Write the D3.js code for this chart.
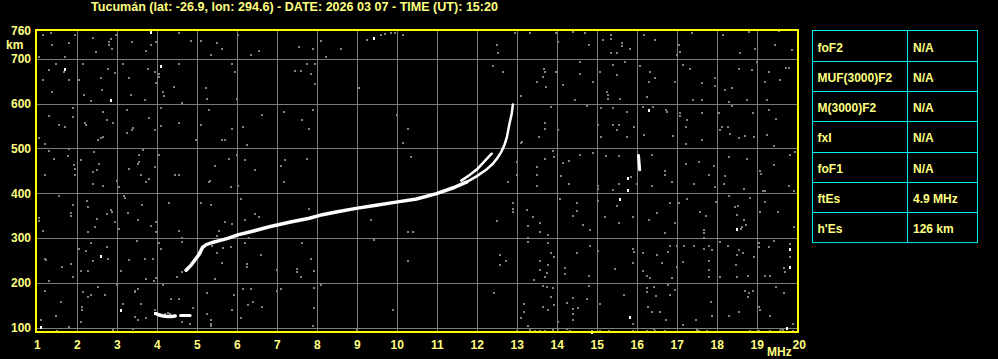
<!DOCTYPE html>
<html>
<head>
<meta charset="utf-8">
<script src="https://cdn.jsdelivr.net/npm/d3@7"></script>
<style>
body { margin: 0; background: #000; }
svg { display: block; }
text { font-family: "Liberation Sans", Arial, sans-serif; font-weight: bold; fill: #ffff80; }
</style>
</head>
<body>
<svg width="998" height="359"></svg>
<script>
var title = 'Tucumán (lat: -26.9, lon: 294.6) - DATE: 2026 03 07 - TIME (UT): 15:20';

// axis ticks
var freqTicks = d3.range(1, 21);
var heightTicks = [100, 200, 300, 400, 500, 600, 700, 760];
var gridHeights = [100, 200, 300, 400, 500, 600, 700];

// ordinary trace (MHz, km), lower thick part
var oFreq = [4.72, 4.85, 4.95, 5.05, 5.13, 5.22, 5.38, 5.55, 5.76, 6.01, 6.38, 6.8, 7.3, 7.8, 8.13, 8.47, 8.97,
    9.47, 9.97, 10.48, 10.98, 11.4, 11.74];
var oHeight = [228, 240, 252, 264, 279, 285, 290, 294, 299, 307, 315, 325, 335, 344, 352, 358, 366,
    373, 380, 387, 399, 412, 425];
// upper thin part of the same trace
var oTopFreq = [11.74, 11.99, 12.22, 12.38, 12.49, 12.6, 12.68, 12.74, 12.8, 12.86, 12.89];
var oTopHeight = [425, 438, 452, 465, 477, 492, 508, 525, 553, 577, 598];

// second (x) branch
var xFreq = [11.6, 11.8, 12.0, 12.15, 12.27, 12.36];
var xHeight = [428, 440, 454, 468, 480, 488];

// sporadic E
var esFreq = [3.97, 4.05, 4.15, 4.25, 4.35, 4.45];
var esHeight = [131, 128, 126, 125, 125, 126];
var es2Freq = [4.58, 4.7, 4.82];
var es2Height = [127, 127, 127];

// isolated echo near 16 MHz
var spikeFreq = [16.03, 16.06];
var spikeHeight = [484, 452];

// background noise echoes (MHz, km)
var noiseDots = [
    [1.13,753],[1.34,757],[1.38,731],[1.78,734],[1.95,753],[2.38,747],[2.47,716],[2.8,731],[2.88,722],[2.97,753],
    [3.38,738],[3.72,717],[3.84,731],[3.97,738],[4.55,757],[4.84,740],[5.09,740],[5.48,734],[5.63,722],[5.34,708],
    [6.03,753],[6.34,708],[6.53,717],[7.53,725],[7.88,722],[8.22,704],[8.59,722],[8.09,740],[9.24,742],[9.6,752],
    [9.7,754],[9.85,758],[9.95,757],[10.13,753],[1.05,704],[1.7,704],[2.85,745],[2.8,738],
    [1.48,688],[1.28,675],[1.13,652],[1.38,626],[1.78,652],[2.13,688],[2.03,652],[2.34,605],[2.59,656],[2.78,677],
    [2.62,630],[2.93,667],[3.15,688],[3.28,656],[3.34,619],[3.7,607],[3.77,678],[3.93,671],[4.03,660],[3.97,645],
    [4.13,626],[4.17,617],[4.43,637],[4.55,688],[4.63,602],[5.22,634],[5.24,611],[5.88,688],[5.94,671],[5.99,611],
    [7.45,672],[7.59,672],[7.73,688],[7.95,688],[7.84,665],[7.95,643],[9.03,634],[4.03,666],[1.66,671],[2.17,618],
    [1.28,572],[1.55,553],[1.7,548],[1.88,590],[1.88,571],[1.05,522],[1.2,510],[2.2,557],[2.22,551],[2.63,580],
    [2.74,563],[2.9,557],[2.63,525],[2.52,518],[3.23,585],[3.38,540],[3.23,535],[3.78,568],[3.93,540],[4.1,591],
    [4.09,549],[4.53,557],[4.97,518],[5.09,551],[5.3,585],[5.63,518],[5.7,518],[5.88,544],[6.13,548],[6.24,508],
    [6.63,575],[7.18,580],[7.63,563],[7.88,585],[7.78,544],[10.28,544],[10.13,513],[9.98,575],[2.58,522],[3.4,545],
    [1.3,494],[1.43,477],[1.77,482],[1.78,499],[1.92,462],[1.95,440],[1.18,440],[2.09,475],[2.42,492],[2.55,466],
    [2.38,447],[2.5,451],[3.3,455],[3.55,486],[3.52,466],[3.6,440],[3.64,496],[3.93,458],[4.05,486],[3.8,432],
    [4.45,440],[4.55,441],[5.44,460],[5.78,477],[5.99,486],[6.19,475],[6.43,451],[7.09,460],[7.2,473],[7.73,477],
    [10.34,481],[1.95,455],[3.55,470],
    [12.94,757],[13.33,757],[13.98,757],[14.4,760],[14.69,757],[15.13,742],[15.33,753],[15.33,712],[15.63,734],[15.82,722],
    [16.18,753],[16.43,742],[17.03,731],[17.07,714],[17.36,757],[18.15,753],[18.78,759],[19.53,762],[19.44,731],[19.88,719],
    [18.58,712],[18.94,722],[12.48,731],[12.53,712],[14.78,731],[15.48,712],[14.03,737],[15.33,745],[15.63,728],[17.0,708],
    [12.38,684],[12.63,671],[13.67,677],[13.63,660],[13.97,671],[14.57,693],[14.57,666],[14.88,647],[15.07,671],[15.4,686],
    [15.48,663],[15.69,693],[16.08,684],[16.32,671],[16.28,648],[16.44,656],[16.94,648],[17.13,687],[17.33,678],[17.61,645],
    [17.94,656],[17.94,640],[18.19,630],[18.38,634],[18.53,678],[18.86,675],[19.28,671],[19.19,648],[19.57,652],[19.72,680],
    [19.0,693],[14.15,642],[13.72,637],[13.48,648],[13.08,617],[14.44,607],[15.23,626],[15.28,611],[15.57,611],[16.23,615],
    [17.4,607],[17.63,607],[18.28,603],[18.73,607],[19.25,607],[13.68,670],[15.26,618],[19.8,680],
    [13.83,593],[14.73,595],[15.08,590],[15.38,590],[15.73,582],[16.15,593],[16.4,593],[16.73,585],[17.07,578],[17.23,563],
    [17.63,578],[18.05,578],[18.38,595],[18.88,578],[19.28,585],[19.48,566],[13.69,557],[13.69,544],[14.03,540],[15.03,551],
    [15.4,553],[15.55,553],[15.48,540],[15.92,548],[16.17,529],[16.9,528],[17.22,548],[18.13,548],[18.27,548],[18.33,531],
    [18.53,522],[18.69,528],[18.92,526],[19.23,530],[13.11,515],[13.55,525],[15.08,525],[15.73,525],[17.22,510],[17.63,518],
    [18.08,540],[19.42,505],[13.1,512],[16.75,580],[17.07,572],
    [13.68,477],[13.9,493],[13.92,481],[14.15,468],[14.28,471],[14.57,486],[14.88,490],[15.21,482],[15.53,482],[16.36,485],
    [16.69,449],[17.22,466],[17.53,470],[17.92,461],[18.28,481],[18.73,477],[19.08,449],[19.42,463],[19.83,486],[19.94,492],
    [13.48,458],[13.48,440],[14.08,438],[12.98,470],[13.0,440],[16.7,440],[17.8,440],[18.2,438],[19.1,442],[15.85,435],
    [2.38,421],[2.63,417],[3.03,413],[3.72,425],[5.3,425],[5.84,413],[6.03,417],[7.18,425],[5.32,427],[3.0,428],
    [1.53,394],[1.88,374],[1.84,355],[2.23,383],[2.28,368],[2.48,342],[2.74,353],[2.84,362],[2.94,335],[3.05,320],
    [3.17,394],[3.26,355],[3.51,340],[3.62,374],[3.84,327],[3.97,335],[3.97,313],[4.3,377],[4.55,315],[1.03,338],
    [1.13,316],[2.28,313],[2.45,324],[5.09,377],[5.34,374],[6.09,387],[5.53,316],[5.7,335],[5.88,331],[6.2,340],
    [6.44,353],[6.53,346],[7.8,364],[9.34,340],[10.28,313],[10.38,313],[9.42,296],[1.05,345],[1.85,350],[2.86,358],
    [3.2,390],[4.63,300],[5.5,305],[6.3,300],
    [1.2,253],[1.84,242],[2.03,276],[2.22,270],[2.34,288],[2.74,279],[2.78,252],[2.38,248],[2.09,227],[1.88,213],
    [1.63,236],[3.09,227],[3.3,250],[3.49,293],[3.68,252],[3.89,253],[3.72,209],[4.03,288],[4.09,276],[4.63,290],
    [4.48,213],[4.63,224],[5.38,283],[5.48,266],[5.65,278],[5.45,209],[5.63,244],[5.84,279],[6.2,288],[6.24,242],
    [6.59,261],[6.98,229],[7.48,224],[7.59,213],[7.63,288],[7.84,252],[7.93,226],[10.28,248],[1.22,250],[2.28,226],
    [3.92,205],[3.97,210],[6.25,236],[7.5,230],
    [1.18,181],[1.3,204],[1.59,157],[2.13,179],[2.26,168],[2.34,172],[2.53,190],[2.7,172],[2.12,146],[2.09,113],
    [1.8,102],[1.47,125],[1.09,116],[2.99,194],[3.15,153],[3.45,179],[3.51,186],[3.59,153],[3.43,124],[3.53,118],
    [3.72,121],[3.93,139],[4.13,194],[4.35,164],[4.55,164],[4.88,144],[4.82,109],[5.24,177],[5.23,131],[5.34,116],
    [5.34,103],[5.93,172],[5.88,139],[6.09,122],[6.13,187],[6.34,187],[6.4,157],[6.28,150],[6.63,147],[6.98,181],
    [7.08,187],[7.93,189],[8.09,194],[7.93,144],[7.88,103],[9.0,94],[9.88,139],[2.12,140],[3.45,182],[4.62,112],
    [5.33,108],[1.5,93],[2.9,94],[3.4,98],[4.2,131],[4.27,132],[4.32,131],
    [12.78,424],[13.48,416],[14.28,420],[15.03,416],[15.53,420],[15.98,421],[16.36,416],[16.86,424],[17.42,421],[17.93,413],
    [18.17,421],[18.68,409],[19.15,404],[19.78,416],[19.93,405],[15.03,410],[15.4,408],[19.2,404],
    [12.48,337],[12.88,379],[12.88,359],[13.23,362],[13.27,327],[13.27,290],[13.38,346],[13.58,333],[13.57,313],[13.78,307],
    [14.07,387],[14.48,377],[14.48,361],[14.38,350],[14.63,329],[14.82,318],[15.03,383],[15.18,346],[15.48,372],[15.53,333],
    [15.9,346],[16.29,340],[16.48,355],[16.68,310],[16.83,377],[16.93,333],[17.03,377],[17.23,387],[17.57,359],[17.72,350],
    [17.67,318],[17.67,300],[17.97,381],[18.3,394],[18.43,370],[18.52,372],[18.48,351],[18.68,339],[18.6,320],[18.72,330],
    [18.82,390],[19.07,357],[19.18,381],[19.52,359],[19.93,324],[12.9,365],[17.67,310],[18.62,325],
    [12.57,261],[12.72,248],[12.57,239],[13.27,301],[13.78,288],[13.83,266],[13.92,257],[13.58,248],[13.78,239],[13.58,229],
    [13.73,221],[13.69,213],[13.43,207],[14.18,233],[14.18,220],[14.48,266],[14.82,283],[14.78,216],[15.03,272],[15.44,231],
    [15.88,276],[15.92,269],[15.88,244],[16.13,266],[16.15,227],[16.23,216],[16.33,211],[16.48,261],[16.63,244],[16.77,268],
    [16.83,283],[16.98,283],[17.0,236],[16.88,211],[17.13,246],[17.18,283],[17.42,281],[17.67,276],[17.78,281],[17.88,273],
    [17.78,248],[17.78,229],[17.78,214],[18.07,292],[18.08,213],[18.27,283],[18.48,261],[18.65,266],[18.53,273],[18.47,239],
    [18.48,213],[18.77,216],[19.03,288],[19.03,279],[19.28,279],[18.93,257],[19.19,216],[19.32,216],[19.42,293],[19.67,233],
    [19.68,224],[19.83,257],[19.82,287],
    [12.42,177],[13.65,192],[13.73,190],[13.88,189],[13.83,168],[13.65,146],[13.78,140],[13.92,150],[13.17,152],[13.17,135],
    [13.08,122],[13.27,103],[14.38,167],[14.23,155],[14.52,144],[14.38,142],[14.73,164],[14.78,192],[14.38,131],[14.4,118],
    [14.03,113],[15.07,152],[15.67,172],[15.88,107],[16.23,189],[16.23,179],[16.42,190],[16.46,170],[16.27,147],[16.37,135],
    [16.57,135],[16.72,118],[16.77,194],[16.83,172],[16.93,184],[17.13,105],[17.47,118],[17.85,157],[17.88,125],[18.3,125],
    [18.55,135],[18.7,181],[18.78,177],[18.88,181],[18.77,168],[19.03,147],[19.07,139],[19.33,125],[19.48,190],[19.67,177],
    [19.9,107],
    [12.98,93],[13.32,95],[13.44,92],[13.57,93],[13.69,92],[13.9,95],[14.03,97],[14.23,98],[14.32,93],[14.73,90],
    [14.86,92],[15.07,93],[15.3,92],[15.61,91],[15.9,93],[16.23,92],[16.42,97],[16.53,91],[16.69,93],[16.9,90],
    [17.15,90],[17.48,95],[17.55,92],[17.73,92],[18.82,92],[19.03,93],[19.15,91],[19.32,92],[19.57,92],[19.6,96],
    [19.65,95],[19.68,91],[19.9,92],[16.45,92],[16.1,90],[15.2,90]
];
var brightDots = [
    [3.84,760],[1.68,678],[4.09,684],[2.83,607],[9.43,746],[2.59,259],[3.09,139],[1.09,101],[16.28,585],[15.78,433],
    [15.78,407],[15.57,387],[15.82,124],[18.48,321],[19.82,276],[19.82,236],[19.73,100],[14.86,90],[3.95,132]
];

// parameter table
var paramNames = ['foF2', 'MUF(3000)F2', 'M(3000)F2', 'fxI', 'foF1', 'ftEs', "h'Es"];
var paramValues = ['N/A', 'N/A', 'N/A', 'N/A', 'N/A', '4.9 MHz', '126 km'];

var svg = d3.select('svg');

var x = d3.scaleLinear().domain([1, 20]).range([37.3, 797.3]);
var y = d3.scaleLinear().domain([88, 764]).range([333, 30]);

svg.append('text')
    .attr('x', 91).attr('y', 11)
    .attr('font-size', 12)
    .attr('textLength', 407).attr('lengthAdjust', 'spacingAndGlyphs')
    .text(title);

// grid
var grid = svg.append('g').attr('stroke', '#7c7c7c').attr('stroke-width', 1).attr('shape-rendering', 'crispEdges');
grid.selectAll('line.v')
    .data(freqTicks.filter(function(d) { return d > 1 && d < 20; }))
    .enter().append('line')
    .attr('x1', function(d) { return Math.round(x(d)) + 0.5; })
    .attr('x2', function(d) { return Math.round(x(d)) + 0.5; })
    .attr('y1', y(764)).attr('y2', y(88));
grid.selectAll('line.h')
    .data(gridHeights)
    .enter().append('line')
    .attr('y1', function(d) { return Math.round(y(d)) + 0.5; })
    .attr('y2', function(d) { return Math.round(y(d)) + 0.5; })
    .attr('x1', 36).attr('x2', 798);

// noise
svg.append('g').attr('fill', '#808080').attr('shape-rendering', 'crispEdges')
    .selectAll('rect')
    .data(noiseDots).enter().append('rect')
    .attr('x', function(d) { return Math.round(x(d[0])) - 1; })
    .attr('y', function(d) { return Math.round(y(d[1])) - 1; })
    .attr('width', 2).attr('height', 2);
svg.append('g').attr('fill', '#fff').attr('shape-rendering', 'crispEdges')
    .selectAll('rect')
    .data(brightDots).enter().append('rect')
    .attr('x', function(d) { return Math.round(x(d[0])) - 1; })
    .attr('y', function(d) { return Math.round(y(d[1])) - 1; })
    .attr('width', 2).attr('height', 3);

// traces
var line = d3.line()
    .x(function(d) { return x(d[0]); })
    .y(function(d) { return y(d[1]); });
function trace(fs, hs, w) {
    svg.append('path')
        .datum(d3.zip(fs, hs))
        .attr('d', line)
        .attr('fill', 'none')
        .attr('stroke', '#fff')
        .attr('stroke-linecap', 'round')
        .attr('stroke-width', w);
}
trace(oFreq, oHeight, 3.5);
trace(oTopFreq, oTopHeight, 2.5);
trace(xFreq, xHeight, 2.5);
trace(esFreq, esHeight, 3.5);
trace(es2Freq, es2Height, 3);
trace(spikeFreq, spikeHeight, 3);

// frame
svg.append('rect')
    .attr('x', 36).attr('y', 30)
    .attr('width', 762).attr('height', 302)
    .attr('shape-rendering', 'crispEdges')
    .attr('fill', 'none').attr('stroke', '#ffff00').attr('stroke-width', 1.5);

// axis labels
svg.selectAll('text.xt')
    .data(freqTicks).enter().append('text')
    .attr('class', 'xt')
    .attr('x', function(d) { return x(d) + (d == 20 ? 2 : 0); })
    .attr('y', 349)
    .attr('text-anchor', 'middle')
    .attr('font-size', 12)
    .text(function(d) { return d; });
svg.append('text').attr('x', 767).attr('y', 356).attr('font-size', 12).text('MHz');

svg.selectAll('text.yt')
    .data(heightTicks).enter().append('text')
    .attr('class', 'yt')
    .attr('x', 31)
    .attr('y', function(d) { return d == 760 ? 35 : y(d) + 4.5; })
    .attr('text-anchor', 'end')
    .attr('font-size', 12)
    .text(function(d) { return d; });
svg.append('text').attr('x', 6).attr('y', 49).attr('font-size', 12).text('km');

// table
var tx0 = 812.5, tx1 = 907.5, tx2 = 977.5, ty0 = 30.5, rowH = 30.3;
var table = svg.append('g');
table.append('rect')
    .attr('x', tx0).attr('y', ty0)
    .attr('width', tx2 - tx0).attr('height', rowH * paramNames.length)
    .attr('fill', 'none').attr('stroke', '#00f0f0');
table.append('line')
    .attr('x1', tx1).attr('x2', tx1)
    .attr('y1', ty0).attr('y2', ty0 + rowH * paramNames.length)
    .attr('stroke', '#00f0f0');
table.selectAll('line.r')
    .data(d3.range(1, paramNames.length)).enter().append('line')
    .attr('x1', tx0).attr('x2', tx2)
    .attr('y1', function(i) { return Math.round(ty0 + i * rowH) + 0.5; })
    .attr('y2', function(i) { return Math.round(ty0 + i * rowH) + 0.5; })
    .attr('stroke', '#00f0f0');
table.selectAll('text.n')
    .data(paramNames).enter().append('text')
    .attr('x', 817.5)
    .attr('y', function(d, i) { return ty0 + i * rowH + 21; })
    .attr('font-size', 12)
    .text(function(d) { return d; });
table.selectAll('text.v')
    .data(paramValues).enter().append('text')
    .attr('x', 913)
    .attr('y', function(d, i) { return ty0 + i * rowH + 21; })
    .attr('font-size', 12)
    .text(function(d) { return d; });
</script>
</body>
</html>
